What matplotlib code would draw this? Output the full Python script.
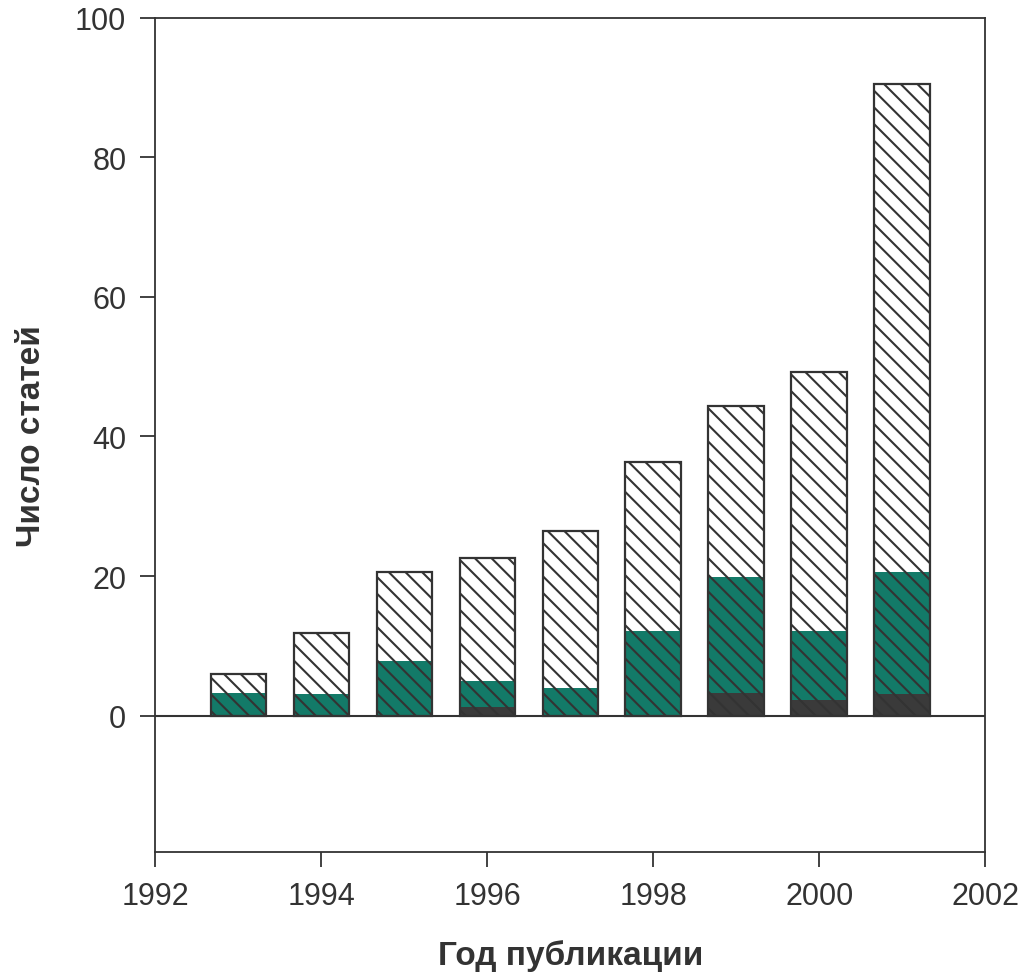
import matplotlib.pyplot as plt

plt.rcParams['font.family'] = ['Liberation Sans', 'DejaVu Sans']

years = [1993, 1994, 1995, 1996, 1997, 1998, 1999, 2000, 2001]
total = [6.0, 11.9, 20.6, 22.6, 26.5, 36.4, 44.3, 49.3, 90.5]
green = [3.3, 3.1, 7.9, 4.9, 3.9, 12.2, 19.9, 12.2, 20.6]
dark = [0.0, 0.0, 0.0, 1.3, 0.0, 0.0, 3.2, 2.2, 3.1]

ink = '#333333'
teal = '#137a68'
width = 0.67

fig = plt.figure(figsize=(10.23, 9.78), dpi=100)
ax = fig.add_axes([0.152, 0.128, 0.811, 0.853])

ax.bar(years, green, width=width, color=teal, edgecolor='none', zorder=2)
ax.bar(years, dark, width=width, color='#3a3a3a', edgecolor='none', zorder=2.5)

plt.rcParams['hatch.color'] = ink
plt.rcParams['hatch.linewidth'] = 1.5
ax.bar(years, total, width=width, facecolor='none', edgecolor=ink,
       linewidth=1.6, hatch='\\\\', zorder=3)

ax.axhline(0, color=ink, linewidth=1.5, zorder=4)

ax.set_xlim(1992, 2002)
ax.set_ylim(-19.5, 100)
ax.set_xticks(range(1992, 2003, 2))
ax.set_yticks(range(0, 101, 20))

for s in ax.spines.values():
    s.set_linewidth(1.3)
    s.set_color(ink)

ax.tick_params(direction='out', length=11, width=1.3, color=ink,
               labelsize=22, labelcolor=ink, pad=10)

ax.set_xlabel('Год публикации', fontsize=24, fontweight='bold', color=ink, labelpad=20)
ax.set_ylabel('Число статей', fontsize=24, fontweight='bold', color=ink, labelpad=20)

fig.savefig('out.png', dpi=100)
